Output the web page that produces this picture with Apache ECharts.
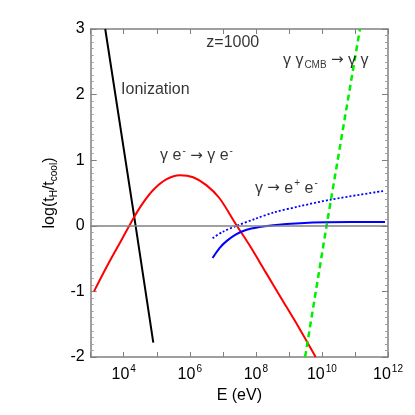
<!DOCTYPE html>
<html><head><meta charset="utf-8">
<script src="https://cdn.jsdelivr.net/npm/echarts@6/dist/echarts.min.js"></script>
<style>html,body{margin:0;padding:0;background:#fff}#c{width:415px;height:415px}</style>
</head><body><div id="c"></div>
<script>
// x values are log10(E / eV)
const ionLogE = [3.44, 4.36, 4.895];
const ionY    = [3.0, 0.0, -1.78];

const comptonLogE = [3.10, 3.50, 3.95, 4.30, 4.60, 4.90, 5.30, 5.70, 6.10, 6.50, 6.90, 7.40, 7.80, 8.30, 8.80, 9.30, 9.81];
const comptonY    = [-1.00, -0.61, -0.20, 0.12, 0.36, 0.55, 0.71, 0.77, 0.74, 0.62, 0.42, 0.02, -0.29, -0.71, -1.13, -1.55, -2.0];

const pairLogE = [6.69, 6.90, 7.12, 7.40, 7.72, 8.10, 8.53, 9.34, 10.14, 11.91];
const pairY    = [-0.49, -0.34, -0.23, -0.13, -0.06, -0.02, 0.01, 0.04, 0.053, 0.058];

const pairDotLogE = [6.69, 7.00, 7.42, 8.00, 8.53, 9.34, 10.28, 11.85];
const pairDotY    = [-0.19, -0.09, 0.0, 0.11, 0.20, 0.30, 0.40, 0.53];

const ggLogE = [9.49, 10.14, 11.15];
const ggY    = [-2.0, 0.0, 3.0];

const xLabelExps = [4, 6, 8, 10, 12];
const yTickLabels = ['-2', '-1', '0', '1', '2', '3'];

const annoText = ['z=1000', '{nt|γ γ}{sub|CMB}{nt| }{art|→}{nt| γ γ}', 'Ionization', '{nb|γ e}{sup|-}{nb| }{arb|→}{nb| γ e}{sup|-}', '{nb|γ }{arb|→}{nb| e}{sup|+}{nb| e}{sup|-}'];
const annoLogE = [6.50, 8.82, 3.92, 5.10, 7.97];
const annoY    = [2.79, 2.51, 2.07, 1.08, 0.59];

const FONT = '"Liberation Sans", Arial, sans-serif';
const AFONT = '"DejaVu Sans", sans-serif';
const GRAY = '#808080';

function zip(a, b) { return a.map((v, i) => [v, b[i]]); }

const chart = echarts.init(document.getElementById('c'), null, {renderer: 'canvas'});

const axTick = {show: true, inside: true, length: 6, lineStyle: {color: GRAY, width: 1}};
const minor = {show: true, splitNumber: 10, length: 3, lineStyle: {color: '#a0a0a0', width: 1}};
const axLine = {show: true, onZero: false, lineStyle: {color: GRAY, width: 1.5}};

const annoRich = {
  nb: {fontSize: 16, fontFamily: FONT, color: '#000', verticalAlign: 'bottom', lineHeight: 18},
  arb: {fontSize: 15, fontFamily: AFONT, color: '#000', verticalAlign: 'bottom', lineHeight: 18},
  sup: {fontSize: 10, fontFamily: FONT, color: '#000', verticalAlign: 'bottom', padding: [0, 0, 8, 1], lineHeight: 10},
  nt: {fontSize: 16, fontFamily: FONT, color: '#000', verticalAlign: 'top', lineHeight: 18},
  art: {fontSize: 15, fontFamily: AFONT, color: '#000', verticalAlign: 'top', lineHeight: 18},
  sub: {fontSize: 10, fontFamily: FONT, color: '#000', verticalAlign: 'top', padding: [8, 0, 0, 1], lineHeight: 10}
};

chart.setOption({
  animation: false,
  backgroundColor: '#fff',
  grid: {left: 90.7, right: 27, top: 29, bottom: 58},
  xAxis: [{
    type: 'value', min: 3, max: 12, interval: 1, position: 'bottom',
    axisLine: axLine, axisTick: {show: true, inside: true, length: 5, lineStyle: {color: GRAY}},
    splitLine: {show: false},
    axisLabel: {
      margin: 8,
      formatter: v => xLabelExps.includes(v) ? '{b|10}{s|' + v + '}' : '',
      rich: {
        b: {fontSize: 16, fontFamily: FONT, color: '#000', verticalAlign: 'bottom', lineHeight: 18},
        s: {fontSize: 10, fontFamily: FONT, color: '#000', verticalAlign: 'bottom', padding: [0, 0, 9, 1], lineHeight: 10}
      }
    },
    name: 'E (eV)', nameLocation: 'middle', nameGap: 28,
    nameTextStyle: {fontSize: 16, fontFamily: FONT, color: '#000'}
  }, {
    type: 'value', min: 3, max: 12, interval: 1, position: 'top',
    axisLine: axLine, axisTick: {show: true, inside: true, length: 5, lineStyle: {color: GRAY}},
    splitLine: {show: false}, axisLabel: {show: false}
  }],
  yAxis: [{
    type: 'value', min: -2, max: 3, interval: 1, position: 'left',
    axisLine: axLine, axisTick: axTick, minorTick: minor,
    splitLine: {show: false}, minorSplitLine: {show: false},
    axisLabel: {margin: 6, fontSize: 16, fontFamily: FONT, color: '#000',
      formatter: v => yTickLabels[Math.round(v) + 2]},
    name: '{n|log(t}{sub|H}{n|/t}{sub|cool}{n|)}', nameLocation: 'middle', nameRotate: 90, nameGap: 23,
    nameTextStyle: {
      rich: {
        n: {fontSize: 16, fontFamily: FONT, color: '#000', verticalAlign: 'top', lineHeight: 18},
        sub: {fontSize: 10, fontFamily: FONT, color: '#000', verticalAlign: 'top', padding: [8, 0, 0, 0], lineHeight: 10}
      }
    }
  }, {
    type: 'value', min: -2, max: 3, interval: 1, position: 'right',
    axisLine: axLine, axisTick: axTick, minorTick: minor,
    splitLine: {show: false}, axisLabel: {show: false}
  }],
  series: [
    {type: 'line', name: 'zero', data: [], xAxisIndex: 0, yAxisIndex: 0, z: 1,
     markLine: {silent: true, symbol: 'none', label: {show: false},
       lineStyle: {color: GRAY, width: 1.5, type: 'solid'}, data: [{yAxis: 0}]}},
    {type: 'line', name: 'Ionization', data: zip(ionLogE, ionY), showSymbol: false, clip: true,
     lineStyle: {color: '#000', width: 2}, z: 3},
    {type: 'line', name: 'Compton', data: zip(comptonLogE, comptonY), showSymbol: false, smooth: 0.3, clip: true,
     lineStyle: {color: '#ff0000', width: 2}, z: 3},
    {type: 'line', name: 'pair', data: zip(pairLogE, pairY), showSymbol: false, smooth: 0.3,
     lineStyle: {color: '#0000ff', width: 2}, z: 3},
    {type: 'line', name: 'pairDot', data: zip(pairDotLogE, pairDotY), showSymbol: false, smooth: 0.3,
     lineStyle: {color: '#0000ff', width: 1.8, type: [2, 2]}, z: 3},
    {type: 'line', name: 'gg', data: zip(ggLogE, ggY), showSymbol: false, clip: true,
     lineStyle: {color: '#00ee00', width: 2.5, type: [6, 4]}, z: 4},
    {type: 'scatter', name: 'anno', symbolSize: 0, z: 5, silent: true,
     data: annoLogE.map((x, i) => ({value: [x, annoY[i]], label: {formatter: annoText[i]}})),
     label: {show: true, position: 'right', distance: 0, fontSize: 16, fontFamily: FONT, color: '#000', rich: annoRich}}
  ]
});
</script></body></html>
